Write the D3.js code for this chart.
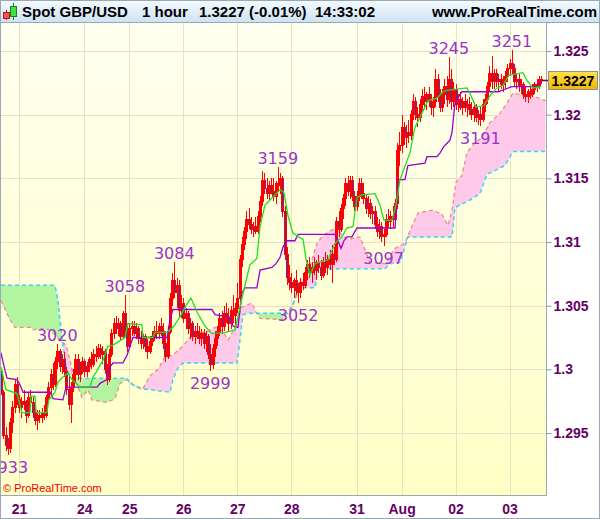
<!DOCTYPE html>
<meta charset="utf-8">
<head>
<style>
body { margin: 0; background: #fff; }
svg { display: block; }
.hdr { font: bold 15px "Liberation Sans", Arial, sans-serif; fill: #000; }
.axis text { font: bold 14px "Liberation Sans", Arial, sans-serif; fill: #660066; }
.axis path { display: none; }
.axis line { stroke: #8c9aa8; }
.mark { font: 16px "DejaVu Sans", sans-serif; fill: #9933cc; text-anchor: middle; }
.grid line { stroke: #e6e2c2; stroke-width: 1; }
.wick { stroke: #ff0000; stroke-width: 1; }
.body { stroke: #ff0000; stroke-width: 1; }
</style>
</head>
<body>
<svg width="600" height="519"></svg>
<script src="https://cdn.jsdelivr.net/npm/d3@7"></script>
<script>

// prices are in pips: 3020 means 1.3020
// hourly bars, one per day block (21 Jul .. 03 Aug)
var opens = [
  2998,2982,2948,2940,2938,2958,2970,2988,
  2976,2970,2975,2972,2964,2978,2974,2966,2960,2964,2962,2966,2964,2978,2986,2996,2988,3006,3014,3002,3008,2998,2984,2972,2986,2996,3008,2996,3002,
  3006,2998,3002,3008,3004,3012,3010,3016,3012,3014,3000,2992,3012,3028,3036,3032,3036,3026,3044,3030,
  3018,3032,3034,3028,3032,3024,3020,3026,3018,3014,3022,3026,3030,3028,3034,3030,3020,3010,3030,3056,3070,3060,3066,3046,
  3052,3040,3044,3032,3036,3026,3030,3028,3024,3028,3020,3026,3012,3004,3016,3024,3030,3040,3034,3044,3040,3036,3046,3042,
  3048,3056,3086,3098,3108,3118,3114,3110,3112,3108,3120,3132,3148,3142,3138,3144,3140,3136,3146,3144,3150,3124,3090,3072,
  3068,3064,3070,3062,3060,3068,3066,3076,3082,3076,3080,3078,3084,3080,3074,3084,3080,3086,3082,3090,3086,3116,3110,3126,3134,3146,3140,3148,3136,
  3128,3136,3146,3138,3134,3126,3130,3122,3124,3114,3108,3112,3104,3106,3118,3116,3120,3118,3130,3172,
  3176,3190,3182,3186,3184,3200,3210,3200,3198,3208,3214,3210,3216,3210,3206,3210,3228,3214,3206,3216,3222,3212,3228,3210,
  3220,3208,3212,3206,3210,3206,3208,3204,3200,3206,3198,3200,3196,3208,3212,3222,3232,3226,3232,3226,3228,3224,3226,3230,
  3236,3240,3236,3226,3228,3222,3224,3216,3214,3218,3216,3220,3224,3222,3228
];
var highs = [
  3000,2984,2955,2946,2962,2975,2992,2994,
  2980,2978,2984,2976,2982,2984,2978,2972,2968,2968,2970,2972,2980,2990,3000,3005,3010,3020,3016,3012,3014,3002,2996,2990,3000,3012,3012,3006,3010,
  3008,3006,3010,3014,3016,3018,3020,3020,3018,3016,3004,3016,3032,3040,3042,3040,3038,3046,3058,3034,
  3036,3038,3038,3036,3034,3030,3028,3028,3024,3026,3030,3034,3038,3036,3040,3036,3030,3034,3060,3076,3084,3072,3070,3058,
  3056,3048,3046,3040,3038,3034,3036,3034,3032,3032,3030,3028,3020,3020,3030,3034,3044,3046,3050,3052,3048,3050,3058,3052,
  3068,3090,3104,3112,3124,3127,3120,3116,3120,3124,3136,3156,3154,3150,3148,3150,3150,3148,3159,3154,3152,3128,3096,3082,
  3076,3072,3078,3068,3072,3076,3080,3086,3088,3084,3088,3086,3090,3086,3088,3092,3090,3094,3098,3096,3120,3124,3130,3138,3150,3152,3152,3152,3140,
  3140,3150,3150,3146,3138,3136,3134,3128,3128,3120,3118,3116,3110,3122,3126,3124,3128,3134,3178,3186,
  3200,3194,3192,3196,3204,3216,3214,3206,3212,3220,3222,3218,3222,3216,3214,3236,3232,3220,3220,3228,3230,3245,3236,3226,
  3224,3216,3218,3214,3216,3212,3214,3210,3210,3208,3204,3206,3212,3216,3226,3238,3246,3236,3236,3232,3232,3230,3234,3240,
  3244,3251,3240,3232,3232,3228,3226,3222,3220,3222,3224,3226,3228,3230,3230
];
var lows = [
  2980,2945,2936,2933,2934,2950,2966,2972,
  2966,2962,2968,2958,2962,2970,2962,2956,2952,2958,2958,2960,2962,2974,2980,2984,2986,3000,2998,2996,2994,2980,2968,2958,2982,2990,2992,2990,2996,
  2994,2994,2998,3000,3002,3006,3008,3008,3004,2996,2988,2990,3010,3024,3028,3026,3022,3024,3028,3014,
  3016,3026,3026,3024,3020,3016,3016,3014,3008,3012,3018,3022,3024,3024,3026,3016,3006,3008,3028,3050,3056,3048,3040,3040,
  3036,3032,3028,3024,3022,3020,3024,3020,3018,3016,3014,3008,2999,3000,3010,3018,3026,3028,3030,3036,3030,3032,3036,3034,
  3044,3054,3080,3094,3102,3110,3106,3104,3106,3106,3116,3128,3138,3134,3132,3138,3132,3130,3140,3138,3120,3086,3066,3062,
  3060,3056,3058,3052,3056,3062,3064,3070,3072,3068,3074,3070,3076,3070,3072,3076,3074,3078,3068,3082,3084,3104,3108,3118,3128,3136,3134,3132,3124,
  3124,3132,3134,3130,3122,3120,3118,3114,3110,3104,3102,3100,3097,3104,3112,3110,3112,3116,3126,3160,
  3170,3176,3174,3178,3180,3196,3196,3190,3194,3202,3206,3204,3206,3200,3198,3206,3210,3202,3202,3208,3206,3208,3204,3206,
  3204,3202,3204,3200,3202,3198,3200,3196,3194,3194,3192,3191,3194,3202,3208,3218,3220,3220,3222,3218,3220,3218,3220,3226,
  3230,3232,3222,3220,3218,3216,3212,3210,3209,3212,3214,3216,3218,3220,3224
];
var closes = [
  2982,2948,2940,2938,2958,2970,2988,2976,
  2970,2975,2972,2964,2978,2974,2966,2960,2964,2962,2966,2964,2978,2986,2996,2988,3006,3014,3002,3008,2998,2984,2972,2986,2996,3008,2996,3002,3006,
  2998,3002,3008,3004,3012,3010,3016,3012,3014,3000,2992,3012,3028,3036,3032,3036,3026,3044,3030,3018,
  3032,3034,3028,3032,3024,3020,3026,3018,3014,3022,3026,3030,3028,3034,3030,3020,3010,3030,3056,3070,3060,3066,3046,3052,
  3040,3044,3032,3036,3026,3030,3028,3024,3028,3020,3026,3012,3004,3016,3024,3030,3040,3034,3044,3040,3036,3046,3042,3048,
  3056,3086,3098,3108,3118,3114,3110,3112,3108,3120,3132,3148,3142,3138,3144,3140,3136,3146,3144,3150,3124,3090,3072,3068,
  3064,3070,3062,3060,3068,3066,3076,3082,3076,3080,3078,3084,3080,3074,3084,3080,3086,3082,3090,3086,3116,3110,3126,3134,3146,3140,3148,3136,3128,
  3136,3146,3138,3134,3126,3130,3122,3124,3114,3108,3112,3104,3106,3118,3116,3120,3118,3130,3172,3176,
  3190,3182,3186,3184,3200,3210,3200,3198,3208,3214,3210,3216,3210,3206,3210,3228,3214,3206,3216,3222,3212,3228,3210,3220,
  3208,3212,3206,3210,3206,3208,3204,3200,3206,3198,3200,3196,3208,3212,3222,3232,3226,3232,3226,3228,3224,3226,3230,3236,
  3240,3236,3226,3228,3222,3224,3216,3214,3218,3216,3220,3224,3222,3228,3227
];

// indicator lines, [bar, pips] at their corners
var tenkan = [[0,3002],[2.2,2984],[7.1,2981],[9.3,2966],[12.9,2966],[13.3,2979],[15.1,2979],[15.6,2966],[20.4,2966],
  [21.3,2976],[24,2982],[25.3,2990],[27.5,2994],[29.8,2997],[31.5,2992],[35.1,2986],[39.5,2986],[40.9,2994],[42.7,2999],
  [45.3,3007],[47.5,3018],[49.8,3019],[55.1,3025],[56.4,3036],[62.6,3035],[63.1,3025],[67.5,3025],[68.4,3029],[73.8,3029],
  [76.4,3033],[79.5,3041],[82.2,3050],[84.4,3056],[87.1,3045],[90.6,3034],[93.7,3028],[99.5,3029],[104,3031],[106.2,3049],
  [108.4,3066],[110.6,3082],[113.7,3087],[115.1,3112],[117.3,3129],[119.5,3133],[124,3141],[125.7,3139],[127.5,3121],
  [129.7,3107],[134.2,3102],[135.5,3087],[137.3,3074],[139.5,3083],[145.3,3086],[148.4,3099],[151.5,3104],[153.7,3111],
  [156.4,3112],[158.2,3135],[160.4,3137],[166.2,3138],[168.4,3129],[170.2,3117],[173.7,3117],[175.5,3129],[177.3,3149],
  [181.7,3170],[183.9,3190],[186.2,3198],[189.7,3211],[193.7,3213],[196.4,3218],[198.2,3219],[207,3221],[208.8,3215],
  [211,3206],[214.6,3207],[217.3,3215],[220.4,3221],[223,3223],[225.7,3231],[231.9,3233],[233.7,3227],[236.4,3221],[240,3222]];
var kijun = [[0,3013],[1.8,2999],[2.7,2993],[7.1,2992],[8.4,2988],[9.8,2982],[21.8,2982],[23.1,2977],[27.5,2976],
  [28.9,2986],[42.7,2986],[44,2989],[47.1,2992],[48.4,3002],[49.8,3005],[54.2,3005],[56,3011],[58.6,3025],[73.8,3025],
  [75.1,3039],[76.4,3047],[93.7,3047],[95.1,3043],[101.7,3041],[103.1,3034],[105.3,3033],[107.1,3060],[108.4,3064],
  [113.7,3064],[115.1,3078],[120.4,3080],[122.2,3083],[124,3088],[125.3,3096],[127.1,3101],[130.6,3101],[132,3106],
  [148.4,3106],[149.7,3101],[151.1,3095],[152.4,3101],[153.7,3104],[155.9,3104],[158.2,3111],[175.1,3111],[176.4,3149],
  [179.5,3149],[180.8,3160],[188.4,3162],[189.3,3167],[193.7,3167],[195.1,3170],[196.8,3175],[199.5,3180],[200.4,3186],
  [201.7,3209],[202.6,3212],[204.8,3218],[220.8,3218],[227,3222],[237.7,3222],[240,3226]];
// cloud edges
var spanB = [[0,3066],[24,3066],[25.3,3054],[26.2,3039],[27.5,3019],[29.3,2999],[30.7,2996],[35.1,2993],[56,2993],
  [57.3,2989],[61.8,2985],[75.1,2982],[76.4,2992],[78.6,3001],[80.9,3005],[104.9,3005],[106.2,3023],[107.5,3043],
  [110.6,3044],[127.5,3044],[129.3,3048],[131.5,3061],[133.7,3064],[139.5,3064],[140.9,3079],[170.6,3079],[172.8,3083],
  [177.3,3084],[179.1,3094],[180.8,3104],[200.4,3104],[201.7,3127],[208.4,3133],[212.8,3138],[215.9,3153],[223.9,3160],
  [227.5,3171],[242,3171]];
var spanA = [[0,3054],[4,3039],[6.2,3033],[12.9,3033],[14.2,3031],[18.7,3032],[21.8,3031],[26.2,3023],[28.9,3019],
  [30.7,3007],[32,2996],[33.8,2988],[36,2978],[38.7,2984],[40.4,2976],[47.1,2974],[50.7,2977],[52.9,2989],[56,2992],
  [59.5,2987],[63.1,2985],[66.2,2995],[69.8,3000],[72.9,3010],[76,3011],[79.5,3016],[83.1,3023],[86.2,3029],[90.6,3029],
  [95.1,3033],[98.2,3031],[100.9,3023],[104,3033],[107.1,3049],[111.5,3052],[113.3,3045],[115.1,3040],[124.8,3039],
  [127.5,3045],[130.6,3054],[133.7,3069],[136.4,3076],[140.4,3099],[143.1,3105],[149.3,3112],[151.5,3105],[154.2,3102],
  [159.5,3104],[161.7,3094],[164,3084],[170.6,3083],[175.1,3095],[179.5,3099],[182.7,3113],[185.4,3123],[191.6,3125],
  [195.9,3122],[198.6,3113],[200.4,3125],[202.2,3147],[204.8,3152],[207,3170],[210.6,3178],[213.7,3182],[217.3,3194],
  [221.7,3201],[224.8,3209],[227.5,3217],[232.8,3215],[235.9,3215],[242,3211]];

// swing labels
var markBars  = [3, 25, 55, 77, 93, 123, 132, 170, 199, 213, 227];
var markPips  = [2933, 3020, 3058, 3084, 2999, 3159, 3052, 3097, 3245, 3191, 3251];
var markSides = ["below","above","above","above","below","above","below","below","above","below","above"];

var dayBars   = [8, 37, 57, 81, 105, 129, 158, 178, 202, 226];
var dayLabels = ["21","24","25","26","27","28","31","Aug","02","03"];
var yTicks    = [1.295, 1.3, 1.305, 1.31, 1.315, 1.32, 1.325];
var lastPrice = 1.3227;

var svg = d3.select("svg"),
    width = +svg.attr("width"),
    height = +svg.attr("height"),
    plotTop = 22, plotBottom = 495, plotRight = 546;

var x = d3.scaleLinear().domain([0, 240]).range([1, 1 + 240 * 2.2505]);
var y = d3.scaleLinear().domain([1.295, 1.325]).range([433, 51]);
function yp(p) { return y(1 + p / 10000); }

var defs = svg.append("defs");
var hg = defs.append("linearGradient").attr("id", "hdr").attr("x1", 0).attr("y1", 0).attr("x2", 0).attr("y2", 1);
hg.append("stop").attr("offset", "0%").attr("stop-color", "#f4faff");
hg.append("stop").attr("offset", "100%").attr("stop-color", "#cde2f1");
var pg = defs.append("linearGradient").attr("id", "plotbg").attr("x1", 0).attr("y1", 0).attr("x2", 0).attr("y2", 1);
pg.append("stop").attr("offset", "0%").attr("stop-color", "#fffff0");
pg.append("stop").attr("offset", "100%").attr("stop-color", "#ffffc6");
var bg = defs.append("linearGradient").attr("id", "pricebox").attr("x1", 0).attr("y1", 0).attr("x2", 0).attr("y2", 1);
bg.append("stop").attr("offset", "0%").attr("stop-color", "#ffe24a");
bg.append("stop").attr("offset", "100%").attr("stop-color", "#f2b400");

defs.append("clipPath").attr("id", "plotclip")
  .append("rect").attr("x", 0).attr("y", plotTop).attr("width", plotRight).attr("height", plotBottom - plotTop);

svg.append("rect").attr("width", width).attr("height", height).attr("fill", "#fff");
svg.append("rect").attr("x", 0).attr("y", plotTop).attr("width", plotRight).attr("height", plotBottom - plotTop)
  .attr("fill", "url(#plotbg)");

// grid
var grid = svg.append("g").attr("class", "grid");
grid.selectAll(".gv").data(dayBars).enter().append("line")
  .attr("x1", function(d) { return Math.round(x(d)) + 0.5; })
  .attr("x2", function(d) { return Math.round(x(d)) + 0.5; })
  .attr("y1", plotTop).attr("y2", plotBottom);
grid.selectAll(".gh").data(yTicks).enter().append("line")
  .attr("x1", 0).attr("x2", plotRight)
  .attr("y1", function(d) { return Math.round(y(d)) + 0.5; })
  .attr("y2", function(d) { return Math.round(y(d)) + 0.5; });

var plot = svg.append("g").attr("clip-path", "url(#plotclip)");

// ichimoku cloud: region between the spans, coloured by which span is on top
var line = d3.line()
  .x(function(d) { return x(d[0]); })
  .y(function(d) { return yp(d[1]); });

var between = line(spanB) + "L" + line(spanA.slice().reverse()).slice(1) + "Z";
var bx0 = x(spanB[0][0]), bx1 = x(spanB[spanB.length - 1][0]);
defs.append("clipPath").attr("id", "belowB")
  .append("path").attr("d", line(spanB) + "L" + bx1 + "," + 600 + "L" + bx0 + "," + 600 + "Z");
defs.append("clipPath").attr("id", "aboveB")
  .append("path").attr("d", line(spanB) + "L" + bx1 + "," + -100 + "L" + bx0 + "," + -100 + "Z");

plot.append("g").attr("clip-path", "url(#belowB)")
  .append("path").attr("d", between).attr("fill", "#b2f4a0").attr("fill-rule", "evenodd");
plot.append("g").attr("clip-path", "url(#aboveB)")
  .append("path").attr("d", between).attr("fill", "#ffc9ea").attr("fill-rule", "evenodd");

plot.append("path").attr("d", line(spanA)).attr("fill", "none")
  .attr("stroke", "#f08a8a").attr("stroke-width", 1.3).attr("stroke-dasharray", "4,3");
plot.append("path").attr("d", line(spanB)).attr("fill", "none")
  .attr("stroke", "#35d6ee").attr("stroke-width", 1.5).attr("stroke-dasharray", "4,3");

// candles
var bars = d3.range(closes.length);
var candle = plot.append("g").attr("shape-rendering", "crispEdges")
  .selectAll("g").data(bars).enter().append("g");

candle.append("line").attr("class", "wick")
  .attr("x1", function(i) { return Math.round(x(i)) + 0.5; })
  .attr("x2", function(i) { return Math.round(x(i)) + 0.5; })
  .attr("y1", function(i) { return yp(highs[i]); })
  .attr("y2", function(i) { return yp(lows[i]); });

candle.append("rect").attr("class", "body")
  .attr("x", function(i) { return Math.round(x(i)) - 0.5; })
  .attr("width", 2)
  .attr("y", function(i) { return Math.min(yp(opens[i]), yp(closes[i])); })
  .attr("height", function(i) { return Math.max(1, Math.abs(yp(opens[i]) - yp(closes[i]))); })
  .attr("fill", function(i) { return closes[i] >= opens[i] ? "#ff0000" : "#5a2ca0"; });

// tenkan / kijun
plot.append("path").attr("d", line(kijun)).attr("fill", "none")
  .attr("stroke", "#9900cc").attr("stroke-width", 1.3);
plot.append("path").attr("d", line(tenkan)).attr("fill", "none")
  .attr("stroke", "#1ee01e").attr("stroke-width", 1.3);

// swing labels
svg.append("g").selectAll("text").data(markBars).enter().append("text")
  .attr("class", "mark")
  .attr("x", function(d) { return x(d); })
  .attr("y", function(d, k) { return markSides[k] == "above" ? yp(markPips[k]) - 3 : yp(markPips[k]) + 18; })
  .text(function(d, k) { return markPips[k]; });

svg.append("text").attr("x", 3).attr("y", 492)
  .style("font", "11px 'Liberation Sans', Arial, sans-serif").attr("fill", "#ee0000")
  .text("\u00a9 ProRealTime.com");

// frame
svg.append("rect").attr("x", 0.5).attr("y", plotTop + 0.5).attr("width", plotRight).attr("height", plotBottom - plotTop)
  .attr("fill", "none").attr("stroke", "#9aa8b4");
svg.append("rect").attr("x", 0.5).attr("y", 0.5).attr("width", width - 1).attr("height", height - 1)
  .attr("fill", "none").attr("stroke", "#9aa8b4");

// axes
var yAxis = d3.axisRight(y).tickValues(yTicks).tickSize(5).tickPadding(2)
  .tickFormat(function(d) { return String(+d.toFixed(3)); });
svg.append("g").attr("class", "axis").attr("transform", "translate(" + (plotRight + 0.5) + ",0)").call(yAxis);

var xAxis = d3.axisBottom(x).tickValues(dayBars).tickSize(0).tickPadding(9)
  .tickFormat(function(d, k) { return dayLabels[k]; });
svg.append("g").attr("class", "axis").attr("transform", "translate(0," + plotBottom + ")").call(xAxis);

// last price marker
svg.append("line").attr("x1", plotRight - 4).attr("x2", plotRight + 3)
  .attr("y1", Math.round(y(lastPrice)) + 0.5).attr("y2", Math.round(y(lastPrice)) + 0.5)
  .attr("stroke", "#660066").attr("stroke-width", 1.5);
svg.append("rect").attr("x", plotRight + 2.5).attr("y", Math.round(y(lastPrice)) - 8.5)
  .attr("width", 49).attr("height", 18).attr("fill", "url(#pricebox)").attr("stroke", "#8f8f8f");
svg.append("text").attr("x", plotRight + 27).attr("y", Math.round(y(lastPrice)) + 5.5)
  .attr("text-anchor", "middle").style("font", "bold 14px 'Liberation Sans', Arial, sans-serif")
  .text("1.3227");

// header
svg.append("rect").attr("x", 0.5).attr("y", 0.5).attr("width", width - 1).attr("height", plotTop)
  .attr("fill", "url(#hdr)").attr("stroke", "#9aa8b4");
var icon = svg.append("g").attr("shape-rendering", "crispEdges");
icon.append("line").attr("x1", 6.5).attr("x2", 6.5).attr("y1", 10).attr("y2", 20).attr("stroke", "#a02020");
icon.append("rect").attr("x", 3.5).attr("y", 12.5).attr("width", 6).attr("height", 6).attr("fill", "#ff5050").attr("stroke", "#a02020");
icon.append("line").attr("x1", 13.5).attr("x2", 13.5).attr("y1", 3).attr("y2", 20).attr("stroke", "#208020");
icon.append("rect").attr("x", 10.5).attr("y", 6.5).attr("width", 6).attr("height", 10).attr("fill", "#40e040").attr("stroke", "#208020");

var headerTexts = [[22, "Spot GBP/USD"], [142, "1 hour"], [199, "1.3227 (-0.01%)"], [315, "14:33:02"]];
svg.selectAll(".hdr").data(headerTexts).enter().append("text")
  .attr("class", "hdr").attr("x", function(d) { return d[0]; }).attr("y", 16.5)
  .text(function(d) { return d[1]; });
svg.append("text").attr("class", "hdr").attr("x", 597).attr("y", 16.5).attr("text-anchor", "end")
  .text("www.ProRealTime.com");

</script>
</body>
</html>
